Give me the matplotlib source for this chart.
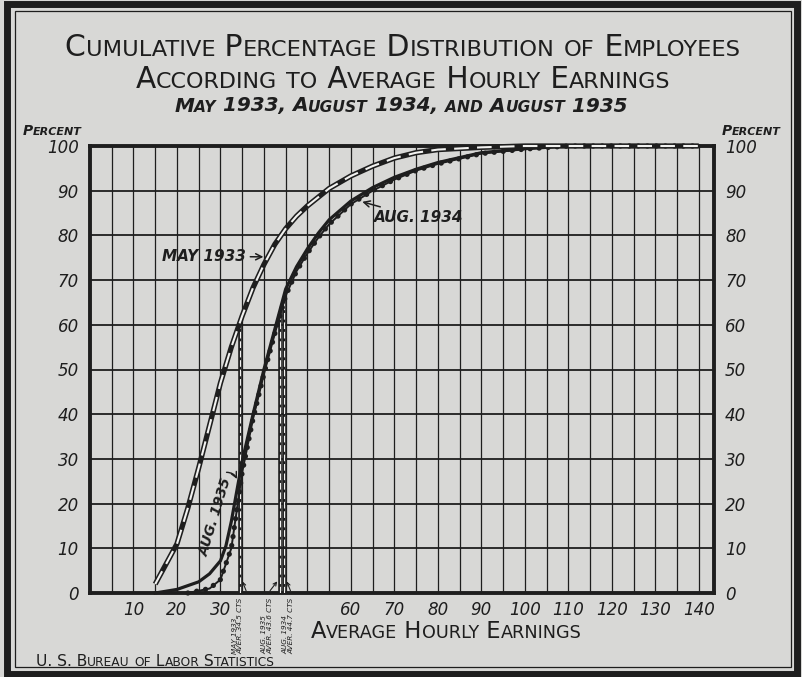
import re
import numpy as np
import matplotlib
matplotlib.use("Agg")
import matplotlib.pyplot as plt
import matplotlib.transforms as mtransforms
from matplotlib.offsetbox import TextArea, HPacker, AnnotationBbox
from matplotlib.patches import Rectangle

# cumulative percent of employees earning less than x cents an hour
may33_x = [15, 20, 22.5, 25, 27.5, 30, 32.5, 35, 37.5, 40, 42.5, 45, 47.5, 50, 55, 60, 65, 70, 75, 80,
           90, 100, 140]
may33_y = [2, 11, 19, 28, 37.5, 47, 55, 62, 68.3, 73.5, 78, 81.5, 84.3, 86.6, 90.5, 93.3, 95.5, 97.3,
           98.5, 99.2, 99.7, 100, 100]

aug35_x = [15, 20, 25, 27.5, 30, 31.25, 32.5, 35, 37.5, 40, 42.5, 45, 47.5, 50, 52.5, 55, 60, 65, 70,
           75, 80, 90, 100, 110, 140]
aug35_y = [0, 0.8, 2.5, 4.3, 7.2, 10.5, 16, 29.5, 40, 50, 59, 68, 73, 77, 80.5, 83.5, 87.7, 90.7, 93,
           94.8, 96.3, 98.5, 99.4, 100, 100]

aug34_x = [22.5, 25, 27.5, 30, 32.5, 35, 37.5, 40, 42.5, 45, 47.5, 50, 52.5, 55, 60, 65, 70, 75, 80,
           90, 100, 110, 140]
aug34_y = [0, 0.5, 1, 3, 10, 27, 39, 49, 58, 66.5, 72, 76, 79.5, 82.5, 87, 90, 92.5, 94.5, 96, 98.3,
           99.3, 100, 100]

# average hourly earnings, cents
avg_may33 = 34.5
avg_aug35 = 43.6
avg_aug34 = 44.7

xtick_vals = [10, 20, 30, 60, 70, 80, 90, 100, 110, 120, 130, 140]
ytick_vals = list(range(0, 101, 10))

BG = "#d8d8d6"
INK = "#1e1e1e"
PAPER = "#f2f2f0"

plt.rcParams["font.family"] = ["DejaVu Sans"]
plt.rcParams["font.style"] = "italic"

W, H = 803, 677


def fpos(x, y):
    # pixel position (from top-left) -> figure fraction
    return x / W, 1 - y / H


def caps(text, big, small, **kw):
    # poor man's small caps: capitals big, lower case letters drawn as small capitals
    runs = re.findall(r"[a-z]+|[^a-z]+", text)
    kids = [TextArea(r.upper(), textprops=dict(size=small if r.islower() else big, color=INK, **kw))
            for r in runs]
    return HPacker(children=kids, align="baseline", pad=0, sep=0)


def put_caps(fig, text, x, y, big, small, **kw):
    ab = AnnotationBbox(caps(text, big, small, **kw), fpos(x, y), xycoords="figure fraction",
                        frameon=False, box_alignment=(0.5, 0.5), pad=0)
    fig.add_artist(ab)


fig = plt.figure(figsize=(W / 100, H / 100), dpi=100, facecolor=BG)

# page border: heavy outer rule, thin inner rule
fig.patches.append(Rectangle((7 / W, 3 / H), 790 / W, 670 / H, transform=fig.transFigure,
                             fill=False, lw=5.0, ec=INK))
fig.patches.append(Rectangle((15 / W, 10 / H), 776 / W, 656 / H, transform=fig.transFigure,
                             fill=False, lw=0.9, ec=INK))

ax = fig.add_axes([90 / W, 1 - 593 / H, 624 / W, 447 / H])
ax.set_facecolor(BG)
ax.set_xlim(0, 143.5)
ax.set_ylim(0, 100)

# ruling
ax.vlines(np.arange(5, 141, 5), 0, 100, color=INK, lw=0.9, zorder=1)
ax.hlines(np.arange(10, 100, 10), 0, 143.5, color=INK, lw=1.3, zorder=1)
for s in ax.spines.values():
    s.set_linewidth(2.8)
    s.set_color(INK)

# May 1933: open double line with black bars
ax.plot(may33_x, may33_y, color=INK, lw=3.8, solid_capstyle="butt", zorder=4, clip_on=False)
ax.plot(may33_x, may33_y, color=PAPER, lw=1.5, dashes=(7, 4), zorder=5, clip_on=False)

# Aug 1935: heavy solid line
ax.plot(aug35_x, aug35_y, color=INK, lw=2.3, zorder=4, clip_on=False)

# Aug 1934: beaded line
ax.plot(aug34_x, aug34_y, color=INK, lw=1.4, zorder=4, clip_on=False)
ax.plot(aug34_x, aug34_y, color=INK, lw=3.8, linestyle=(0, (0.01, 1.7)),
        dash_capstyle="round", zorder=4, clip_on=False)

# average lines
for a, cx, cy in [(avg_may33, may33_x, may33_y), (avg_aug35, aug35_x, aug35_y),
                  (avg_aug34, aug34_x, aug34_y)]:
    top = np.interp(a, cx, cy)
    ax.plot([a, a], [0, top], color=INK, lw=2.6, solid_capstyle="butt", zorder=3)
    ax.plot([a, a], [0, top], color=PAPER, lw=0.8, dashes=(6, 2.5), zorder=3)

# curve labels
lab = dict(fontsize=11, fontweight="bold", color=INK, zorder=6)
ax.annotate("MAY 1933", xy=(40.2, 75.2), xytext=(35.9, 75.3), ha="right", va="center",
            arrowprops=dict(arrowstyle="->", lw=1.1, color=INK, shrinkA=1, shrinkB=1), **lab)
ax.annotate("AUG. 1934", xy=(62.3, 87.6), xytext=(65.2, 84.0), ha="left", va="center",
            arrowprops=dict(arrowstyle="->", lw=1.1, color=INK, shrinkA=1, shrinkB=1), **lab)
ax.text(29.0, 17.0, "AUG. 1935", rotation=73, ha="center", va="center",
        rotation_mode="anchor", fontsize=10, fontweight="bold", color=INK, zorder=6)
ax.annotate("", xy=(33.8, 25.5), xytext=(31.4, 27.0),
            arrowprops=dict(arrowstyle="->", lw=1.0, color=INK, shrinkA=0, shrinkB=0,
                            connectionstyle="arc3,rad=-0.3"))

# labels for the averages, below the axis, with small pointers to their lines
trans = mtransforms.blended_transform_factory(ax.transData, ax.transAxes)
avg_labels = [(avg_may33, -0.5, "MAY 1933\nAVER. 34.5 CTS", 1.4),
              (avg_aug35, -2.7, "AUG. 1935\nAVER. 43.6 CTS", -2.2),
              (avg_aug34, 1.0, "AUG. 1934\nAVER. 44.7 CTS", 1.4)]
for a, dx, t, tail in avg_labels:
    ax.text(a + dx, -0.01, t, transform=trans, rotation=90, ha="center", va="top",
            multialignment="left", fontsize=5.2, linespacing=1.0, color=INK)
    side = 0.55 if tail > 0 else -0.55
    ax.annotate("", xy=(a + side, 2.6), xytext=(a + tail, 0.5),
                arrowprops=dict(arrowstyle="->", lw=0.8, color=INK, shrinkA=0, shrinkB=0,
                                mutation_scale=6))

# ticks
ax.set_xticks(xtick_vals)
ax.set_yticks(ytick_vals)
ax.set_xticklabels([str(v) for v in xtick_vals])
ax.set_yticklabels([str(v) for v in ytick_vals])
ax.tick_params(axis="both", length=0, labelsize=12, colors=INK)
ax.tick_params(axis="x", pad=6)
ax.tick_params(axis="y", pad=8, labelright=True)

# titles and captions
put_caps(fig, "Cumulative Percentage Distribution of Employees", 403, 48, 21.5, 16.2,
         style="normal")
put_caps(fig, "According to Average Hourly Earnings", 403, 79, 21.3, 16, style="normal")
put_caps(fig, "May 1933, August 1934, and August 1935", 401, 106, 14.4, 11.2,
         style="italic", weight="bold")
put_caps(fig, "Percent", 52, 131, 10, 8, style="italic", weight="bold")
put_caps(fig, "Percent", 751, 131, 10, 8, style="italic", weight="bold")
put_caps(fig, "Average Hourly Earnings", 446, 631, 16.3, 12.7, style="normal")
put_caps(fig, "U. S. Bureau of Labor Statistics", 155, 661, 11.2, 8.8, style="normal")

fig.savefig("out.png", dpi=100, facecolor=BG)
